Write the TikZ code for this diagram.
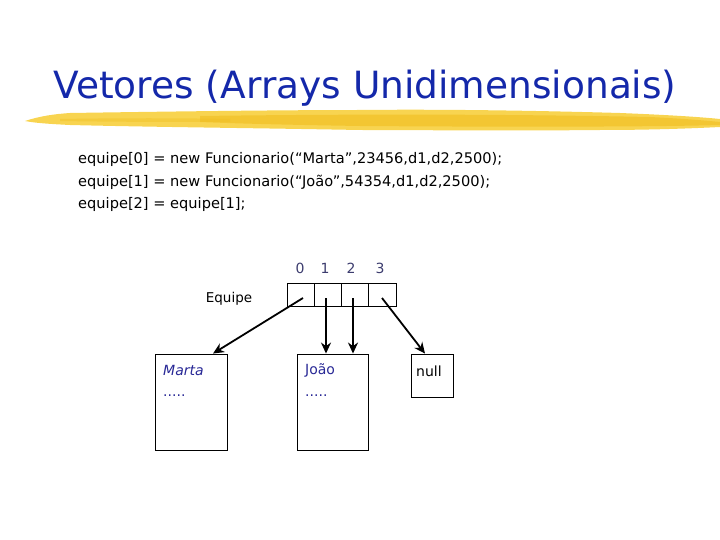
\documentclass[tikz,border=0pt]{standalone}
\usepackage{fontspec}
\setmainfont{DejaVu Sans}
\usetikzlibrary{arrows.meta}
\definecolor{titleblue}{RGB}{20,40,170}
\definecolor{txtblue}{RGB}{40,40,150}
\definecolor{idxblue}{RGB}{60,60,110}
\definecolor{brush}{RGB}{248,212,80}
\definecolor{brushdark}{RGB}{240,190,30}
\tikzset{
  box/.style={draw=black, line width=0.9pt, fill=white},
  cell/.style={draw=black, line width=0.9pt, minimum width=27.25pt, minimum height=23pt, inner sep=0pt, outer sep=0pt},
  ptr/.style={line width=1.8pt, -{Stealth[length=11pt,width=10pt]}},
  code/.style={anchor=west, font=\fontsize{14.6}{16}\selectfont, inner sep=0pt},
  idx/.style={font=\fontsize{14}{16}\selectfont, text=idxblue, inner sep=0pt},
  objtxt/.style={anchor=west, font=\fontsize{14}{17}\selectfont, text=txtblue, inner sep=0pt}
}
\begin{document}
\begin{tikzpicture}[x=1pt,y=-1pt]
\useasboundingbox (0,0) rectangle (720,540);
% brush stroke
\fill[brush] (25,121) .. controls (40,116) and (55,114) .. (70,113)
   .. controls (200,111) and (300,110) .. (360,110)
   .. controls (450,109) and (550,111) .. (620,113)
   .. controls (670,115) and (700,117) .. (720,119) -- (720,127)
   .. controls (680,129) and (640,130) .. (600,130)
   .. controls (500,131) and (420,130) .. (360,130)
   .. controls (250,128) and (150,127) .. (70,125)
   .. controls (50,124) and (35,123) .. (25,121) -- cycle;
\fill[brushdark, opacity=0.6] (200,116) .. controls (350,114) and (500,114) .. (650,117)
   .. controls (690,119) and (710,121) .. (720,122) -- (720,125)
   .. controls (650,127) and (500,127) .. (360,126)
   .. controls (300,125) and (250,124) .. (200,122) -- cycle;
\fill[brushdark, opacity=0.4] (60,119) .. controls (120,118) and (180,118) .. (230,119)
   -- (230,122) .. controls (180,122) and (120,122) .. (60,121) -- cycle;
% title
\node[text=titleblue, font=\fontsize{37.5}{42}\selectfont, inner sep=0pt] (title) at (365,88) {Vetores (Arrays Unidimensionais)};
% code
\node[code] (l1) at (78,159) {equipe[0] = new Funcionario(“Marta”,23456,d1,d2,2500);};
\node[code] (l2) at (78,182) {equipe[1] = new Funcionario(“João”,54354,d1,d2,2500);};
\node[code] (l3) at (78,204) {equipe[2] = equipe[1];};
% array
\node[cell] (c0) at (300.6,295) {};
\node[cell] (c1) at (327.9,295) {};
\node[cell] (c2) at (355.1,295) {};
\node[cell] (c3) at (382.4,295) {};
\node[idx] (i0) at (300,268) {0};
\node[idx] (i1) at (325,268) {1};
\node[idx] (i2) at (351,268) {2};
\node[idx] (i3) at (380,268) {3};
\node[font=\fontsize{13.5}{16}\selectfont, inner sep=0pt] (eq) at (229,299) {Equipe};
% objects
\node[box, minimum width=72pt, minimum height=96pt, inner sep=0pt] (marta) at (191,402) {};
\node[box, minimum width=71pt, minimum height=96pt, inner sep=0pt] (joao) at (332.5,402) {};
\node[box, minimum width=42pt, minimum height=43pt, inner sep=0pt] (null) at (432,375.5) {};
\node[objtxt] (mt) at (163,370) {\itshape Marta};
\node[objtxt] (md) at (163,396) {.....};
\node[objtxt] (jt) at (305,370) {João};
\node[objtxt] (jd) at (305,396) {.....};
\node[anchor=west, font=\fontsize{14}{17}\selectfont, inner sep=0pt] (nt) at (416,371) {null};
% pointers
\coordinate (p0) at (303,298);
\coordinate (p1) at (326,298);
\coordinate (p2) at (353,298);
\coordinate (p3) at (382,298);
\draw[ptr] (p0) -- (marta.north -| 213,0);
\draw[ptr] (p1) -- (p1 |- joao.north);
\draw[ptr] (p2) -- (p2 |- joao.north);
\draw[ptr] (p3) -- (null.north -| 425,0);
\end{tikzpicture}
\end{document}
